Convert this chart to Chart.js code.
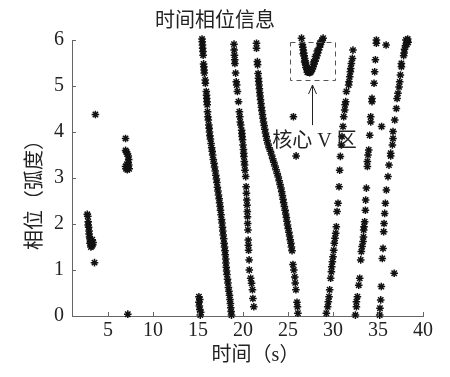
<!DOCTYPE html>
<html>
<head>
<meta charset="utf-8">
<script src="https://cdn.jsdelivr.net/npm/chart.js@4.4.0/dist/chart.umd.min.js"></script>
<style>
  body { margin: 0; background: #fff; }
  #wrap { width: 450px; height: 377px; }
</style>
</head>
<body>
<div id="wrap"><canvas id="phaseChart" width="450" height="377"></canvas></div>
<script>
// tick labels
const xTicks = [5, 10, 15, 20, 25, 30, 35, 40];
const yTicks = [0, 1, 2, 3, 4, 5, 6];

// scattered points on the left
const leftPoints = [
  [3.6, 4.38],
  [2.7, 2.21], [2.75, 2.17], [2.8, 2.05], [2.8, 1.98], [2.85, 1.93], [2.9, 1.85],
  [2.9, 1.78], [2.95, 1.72], [3.0, 1.68], [3.05, 1.63], [3.1, 1.6], [3.15, 1.56],
  [3.2, 1.52], [3.1, 1.5], [3.3, 1.55], [3.35, 1.6], [3.25, 1.66], [3.0, 1.58],
  [3.5, 1.16],
  [6.95, 3.86],
  [6.95, 3.6], [7.05, 3.57], [7.15, 3.52], [7.25, 3.48], [7.3, 3.4], [7.25, 3.33],
  [7.1, 3.3], [6.95, 3.25], [7.0, 3.2], [7.15, 3.18], [7.35, 3.2], [7.3, 3.28],
  [7.2, 0.04],
  [15.1, 0.42], [15.2, 0.36], [15.1, 0.3], [15.15, 0.22], [15.2, 0.14], [15.3, 0.08], [15.25, 0.02]
];

// track from 15.5 to 18.7 s
const trackA = [
  [15.45, 6.02], [15.47, 5.96], [15.5, 5.89], [15.52, 5.82], [15.55, 5.75], [15.57, 5.67],
  [15.62, 5.48], [15.65, 5.42], [15.68, 5.35], [15.7, 5.28], [15.8, 5.13], [15.82, 5.06],
  [15.92, 4.88], [15.95, 4.8], [15.97, 4.73], [16.0, 4.66], [16.02, 4.59], [16.06, 4.44],
  [16.1, 4.33], [16.15, 4.26], [16.2, 4.15], [16.24, 4.08], [16.28, 4.0], [16.32, 3.92],
  [16.38, 3.85], [16.45, 3.75], [16.52, 3.66], [16.58, 3.58], [16.63, 3.5], [16.7, 3.4],
  [16.78, 3.32], [16.84, 3.24], [16.92, 3.15], [16.98, 3.06], [17.05, 2.98], [17.1, 2.9],
  [17.16, 2.8], [17.22, 2.72], [17.28, 2.63], [17.35, 2.55], [17.4, 2.46], [17.46, 2.38],
  [17.5, 2.3], [17.56, 2.2], [17.62, 2.1], [17.67, 2.02], [17.72, 1.93], [17.76, 1.85],
  [17.8, 1.76], [17.86, 1.68], [17.9, 1.58], [17.95, 1.5], [18.0, 1.42], [18.03, 1.33],
  [18.08, 1.24], [18.1, 1.15], [18.14, 1.06], [18.18, 0.98], [18.22, 0.9], [18.28, 0.8],
  [18.33, 0.72], [18.38, 0.62], [18.44, 0.54], [18.5, 0.45], [18.55, 0.36], [18.6, 0.27],
  [18.64, 0.18], [18.68, 0.1], [18.72, 0.02]
];

// track from 19 to 21.2 s
const trackB = [
  [19.0, 5.91], [19.02, 5.78], [19.05, 5.67], [19.08, 5.57], [19.1, 5.49], [19.18, 5.28],
  [19.25, 5.09], [19.3, 5.02], [19.38, 4.88], [19.5, 4.66], [19.6, 4.44], [19.65, 4.33],
  [19.7, 4.22], [19.75, 4.15], [19.85, 4.04], [19.88, 3.97], [19.9, 3.9], [19.95, 3.83],
  [20.0, 3.72], [20.05, 3.62], [20.08, 3.54], [20.1, 3.47], [20.15, 3.36], [20.18, 3.28],
  [20.22, 3.17], [20.3, 3.03], [20.35, 2.81], [20.38, 2.67], [20.42, 2.52], [20.45, 2.41],
  [20.48, 2.27], [20.5, 2.16], [20.52, 2.01], [20.55, 1.87], [20.58, 1.65], [20.6, 1.54],
  [20.62, 1.43], [20.68, 1.22], [20.7, 1.0], [20.85, 0.82], [20.95, 0.71], [21.05, 0.57],
  [21.1, 0.38], [21.2, 0.2]
];

// track from 21.5 to 26.1 s
const trackC = [
  [21.5, 5.93], [21.5, 5.82], [21.6, 5.53], [21.62, 5.46], [21.68, 5.27], [21.72, 5.17],
  [21.75, 5.1], [21.78, 5.02], [21.82, 4.94], [21.86, 4.86], [21.9, 4.78], [21.95, 4.7],
  [22.0, 4.62], [22.05, 4.54], [22.1, 4.46], [22.16, 4.38], [22.22, 4.3], [22.28, 4.22],
  [22.35, 4.14], [22.42, 4.06], [22.5, 3.98], [22.58, 3.9], [22.66, 3.82], [22.78, 3.74],
  [22.9, 3.66], [23.05, 3.58], [23.18, 3.5], [23.3, 3.42], [23.42, 3.34], [23.55, 3.26],
  [23.68, 3.18], [23.8, 3.1], [23.92, 3.02], [24.02, 2.94], [24.12, 2.86], [24.22, 2.78],
  [24.3, 2.7], [24.38, 2.62], [24.45, 2.54], [24.52, 2.46], [24.6, 2.38], [24.68, 2.3],
  [24.75, 2.22], [24.82, 2.14], [24.88, 2.06], [24.95, 1.98], [25.02, 1.9], [25.1, 1.82],
  [25.18, 1.74], [25.25, 1.66], [25.32, 1.58], [25.38, 1.5], [25.45, 1.42],
  [25.55, 1.12], [25.65, 1.0], [25.75, 0.85], [25.8, 0.72], [25.88, 0.57], [26.0, 0.3],
  [26.05, 0.2], [26.1, 0.06],
  [25.6, 4.33], [25.9, 3.48]
];

// core V region
const vRegion = [
  [26.5, 6.04], [26.6, 5.9], [26.65, 5.84], [26.7, 5.78], [26.75, 5.72], [26.8, 5.66],
  [26.85, 5.6], [26.9, 5.55], [26.95, 5.5], [27.0, 5.45], [27.05, 5.41], [27.1, 5.37],
  [27.2, 5.33], [27.3, 5.3], [27.4, 5.29], [27.5, 5.3], [27.6, 5.33], [27.7, 5.37],
  [27.8, 5.42], [27.9, 5.48], [28.0, 5.54], [28.1, 5.6], [28.2, 5.66], [28.3, 5.72],
  [28.4, 5.78], [28.5, 5.84], [28.6, 5.9], [28.7, 5.95], [28.8, 6.0], [28.9, 6.04],
  [26.7, 5.7], [26.85, 5.52], [27.0, 5.4], [27.15, 5.3], [27.6, 5.38], [27.85, 5.52],
  [28.05, 5.64], [28.25, 5.76], [28.55, 5.93]
];

// track from 32.2 down to 29.3 s
const trackD = [
  [32.22, 5.78], [32.15, 5.6], [32.04, 5.49], [31.97, 5.38], [31.93, 5.31], [31.86, 5.2],
  [31.78, 5.09], [31.74, 5.02], [31.49, 4.88], [31.41, 4.66], [31.34, 4.59], [31.3, 4.48],
  [31.19, 4.33], [31.11, 4.12], [31.0, 3.9], [30.93, 3.72], [30.82, 3.47], [30.74, 3.17],
  [30.67, 2.81], [30.56, 2.45], [30.45, 2.27], [30.37, 1.94], [30.3, 1.8], [30.22, 1.69],
  [30.15, 1.58], [30.08, 1.43], [30.0, 1.29], [29.93, 1.18], [29.86, 1.07], [29.82, 0.96],
  [29.74, 0.82], [29.63, 0.57], [29.56, 0.42], [29.48, 0.31], [29.41, 0.2], [29.26, 0.06]
];

// track from 34.8 down to 32.5 s
const trackE = [
  [34.82, 6.0], [34.82, 5.93], [34.71, 5.57], [34.63, 5.31], [34.56, 5.06], [34.33, 4.73],
  [34.33, 4.66], [34.19, 4.33], [34.19, 4.22], [34.08, 3.93], [33.97, 3.61], [33.89, 3.5],
  [33.82, 3.36], [33.82, 3.25], [33.71, 2.78], [33.63, 2.52], [33.6, 2.3], [33.52, 2.05],
  [33.45, 1.94], [33.41, 1.87], [33.38, 1.72], [33.34, 1.62], [33.23, 1.51], [33.15, 1.4],
  [33.08, 1.22], [32.97, 0.82], [32.86, 0.67], [32.71, 0.42], [32.6, 0.31], [32.6, 0.2],
  [32.49, 0.02],
  [35.9, 5.89], [35.4, 4.12], [36.8, 0.93]
];

// track from 38.2 down to 35.2 s
const trackF = [
  [38.1, 6.0], [38.25, 5.98], [38.35, 5.95], [38.2, 5.9], [38.05, 5.88], [37.95, 5.8],
  [37.9, 5.72], [37.85, 5.66], [38.3, 6.02],
  [37.6, 5.49], [37.6, 5.42], [37.49, 5.24], [37.41, 5.09], [37.34, 4.98], [37.22, 4.84],
  [37.12, 4.73], [37.04, 4.51], [36.86, 4.26], [36.67, 4.01], [36.67, 3.86], [36.6, 3.72],
  [36.41, 3.54], [36.41, 3.48], [36.22, 3.28], [36.11, 3.03], [35.93, 2.74], [35.82, 2.45],
  [35.74, 2.23], [35.67, 2.01], [35.63, 1.83], [35.56, 1.47], [35.48, 1.25], [35.37, 0.64],
  [35.3, 0.35], [35.22, 0.17], [35.19, 0.02]
];

// annotation (data units)
const boxX = [25.2, 30.2];
const boxY = [5.13, 5.96];
const arrowX = 27.7;
const arrowY = [4.15, 5.02];
const noteX = 27.95;
const noteY = 3.78;
const noteText = '核心 V 区';

const titleText = '时间相位信息';
const xTitle = '时间（s）';
const yTitle = '相位（弧度）';

const serif = "'Liberation Serif', 'Times New Roman', serif";
const cjk = "'Liberation Serif', 'Noto Sans CJK SC', serif";

const tracks = [leftPoints, trackA, trackB, trackC, vRegion, trackD, trackE, trackF];
const datasets = tracks.map(t => ({
  data: t.map(p => ({ x: p[0], y: p[1] })),
  pointStyle: 'star',
  pointRadius: 3.8,
  pointBorderWidth: 1.5,
  borderColor: '#111',
  backgroundColor: '#111',
  showLine: false,
  clip: false
}));

const extras = {
  id: 'extras',
  afterDraw(chart) {
    const ctx = chart.ctx;
    const xs = chart.scales.x, ys = chart.scales.y;
    const area = chart.chartArea;
    ctx.save();
    // inward ticks
    ctx.strokeStyle = '#666';
    ctx.lineWidth = 1;
    ctx.beginPath();
    xTicks.forEach(v => {
      const px = Math.round(xs.getPixelForValue(v)) + 0.5;
      ctx.moveTo(px, area.bottom);
      ctx.lineTo(px, area.bottom - 4);
    });
    yTicks.forEach(v => {
      const py = Math.round(ys.getPixelForValue(v)) + 0.5;
      ctx.moveTo(area.left, py);
      ctx.lineTo(area.left + 4, py);
    });
    ctx.stroke();

    // dashed box
    ctx.strokeStyle = '#555';
    ctx.setLineDash([5, 4]);
    const bx0 = xs.getPixelForValue(boxX[0]), bx1 = xs.getPixelForValue(boxX[1]);
    const by0 = ys.getPixelForValue(boxY[1]), by1 = ys.getPixelForValue(boxY[0]);
    ctx.strokeRect(Math.round(bx0) + 0.5, Math.round(by0) + 0.5, Math.round(bx1 - bx0), Math.round(by1 - by0));
    ctx.setLineDash([]);

    // arrow
    const ax = Math.round(xs.getPixelForValue(arrowX)) + 0.5;
    const ay0 = ys.getPixelForValue(arrowY[0]), ay1 = ys.getPixelForValue(arrowY[1]);
    ctx.strokeStyle = '#222';
    ctx.beginPath();
    ctx.moveTo(ax, ay0);
    ctx.lineTo(ax, ay1);
    ctx.moveTo(ax - 4, ay1 + 9);
    ctx.lineTo(ax, ay1);
    ctx.lineTo(ax + 4, ay1 + 9);
    ctx.stroke();

    // note text
    ctx.fillStyle = '#222';
    ctx.font = '20px ' + cjk;
    ctx.textAlign = 'center';
    ctx.textBaseline = 'middle';
    ctx.fillText(noteText, xs.getPixelForValue(noteX), ys.getPixelForValue(noteY));

    // titles
    ctx.font = "20px 'Noto Sans CJK SC', sans-serif";
    ctx.fillText(titleText, 215, 19);
    ctx.font = '20px ' + cjk;
    ctx.fillText(xTitle, (area.left + area.right) / 2 + 8, 356);
    ctx.translate(36, (area.top + area.bottom) / 2 + 12);
    ctx.rotate(-Math.PI / 2);
    ctx.fillText(yTitle, 0, 0);
    ctx.restore();
  }
};

new Chart(document.getElementById('phaseChart'), {
  type: 'scatter',
  data: { datasets },
  options: {
    responsive: false,
    animation: false,
    events: [],
    layout: { padding: { top: 40, right: 27, left: 0, bottom: 0 } },
    plugins: { legend: { display: false }, tooltip: { enabled: false }, title: { display: false } },
    scales: {
      x: {
        type: 'linear',
        min: 1,
        max: 40,
        afterBuildTicks: s => { s.ticks = xTicks.map(v => ({ value: v })); },
        afterFit: s => { s.height = 61; },
        grid: { drawOnChartArea: false, drawTicks: false },
        border: { display: true, color: '#666', width: 1 },
        ticks: { padding: 3, color: '#222', font: { family: serif, size: 20 }, maxRotation: 0, autoSkip: false }
      },
      y: {
        type: 'linear',
        min: 0,
        max: 6,
        afterBuildTicks: s => { s.ticks = yTicks.map(v => ({ value: v })); },
        afterFit: s => { s.width = 72; },
        grid: { drawOnChartArea: false, drawTicks: false },
        border: { display: true, color: '#666', width: 1 },
        ticks: { padding: 8, color: '#222', font: { family: serif, size: 20 } }
      }
    }
  },
  plugins: [extras]
});
</script>
</body>
</html>
